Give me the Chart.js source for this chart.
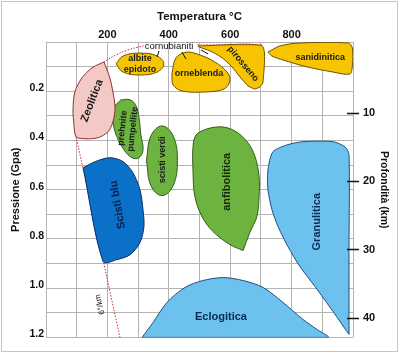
<!DOCTYPE html>
<html>
<head>
<meta charset="utf-8">
<script src="https://cdn.jsdelivr.net/npm/chart.js@4.4.1/dist/chart.umd.min.js"></script>
<style>
html, body { margin: 0; padding: 0; background: #fff; }
#wrap { width: 400px; height: 354px; }
</style>
</head>
<body>
<div id="wrap"><canvas id="facies" width="400" height="354"></canvas></div>
<script>
// assi
const tempTicks = [200, 400, 600, 800];
const pressTicks = [0.2, 0.4, 0.6, 0.8, 1.0, 1.2];
const depthTicks = [10, 20, 30, 40];

// contorni delle facies: [temperatura °C, pressione GPa]
const zeolitica = [[189,0.081],[150,0.105],[117,0.146],[94,0.203],[88,0.276],[91,0.336],[98,0.385],[127,0.393],[169,0.389],[202,0.365],[218,0.324],[225,0.268],[218,0.203],[208,0.146],[189,0.081]];
const albiteEpidoto = [[228,0.089],[251,0.057],[306,0.045],[362,0.057],[384,0.089],[362,0.122],[306,0.134],[251,0.122],[228,0.089]];
const orneblenda = [[410,0.130],[423,0.065],[459,0.041],[502,0.053],[550,0.081],[590,0.122],[599,0.158],[580,0.191],[518,0.203],[443,0.199],[414,0.174],[410,0.130]];
const pirosseno = [[495,0.016],[704,0.016],[707,0.162],[697,0.182],[681,0.191],[658,0.178],[632,0.142],[603,0.097],[570,0.061],[534,0.036],[498,0.020],[495,0.016]];
const sanidinitica = [[723,0.041],[762,0.016],[827,0.004],[984,0.004],[998,0.024],[998,0.097],[990,0.130],[935,0.122],[850,0.101],[772,0.073],[736,0.057],[723,0.041]];
const prehnitePumpellite = [[244,0.235],[274,0.235],[293,0.259],[303,0.308],[309,0.377],[316,0.438],[303,0.470],[280,0.470],[254,0.438],[231,0.385],[218,0.324],[221,0.268],[244,0.235]];
const scistiVerdi = [[327,0.482],[342,0.381],[378,0.341],[414,0.381],[428,0.482],[414,0.584],[378,0.624],[342,0.584],[327,0.482]];
const scistiBlu = [[121,0.511],[160,0.486],[208,0.470],[251,0.486],[283,0.531],[306,0.600],[316,0.681],[319,0.750],[306,0.815],[274,0.864],[231,0.884],[186,0.892],[121,0.511]];
const anfibolitica = [[642,0.847],[599,0.823],[544,0.770],[508,0.709],[485,0.628],[479,0.531],[480,0.410],[495,0.370],[557,0.345],[609,0.357],[655,0.405],[681,0.466],[694,0.547],[694,0.628],[687,0.709],[664,0.774],[642,0.847]];
const granulitica = [[987,1.188],[987,0.843],[987,0.458],[974,0.426],[935,0.405],[837,0.405],[785,0.418],[739,0.446],[723,0.519],[723,0.600],[736,0.681],[756,0.750],[788,0.831],[827,0.912],[876,0.993],[935,1.095],[987,1.188]];
const eclogitica = [[313,1.2],[349,1.139],[394,1.058],[453,0.997],[511,0.969],[577,0.957],[642,0.969],[707,0.997],[772,1.058],[837,1.127],[883,1.168],[919,1.2],[616,1.2],[313,1.2]];

// gradiente 6°/km e limite superiore
const geotermaAlta1 = [[704,0.012],[490,0.012]];
const geotermaAlta2 = [[318,0.016],[283,0.026],[248,0.041],[215,0.061],[189,0.081]];
const geotermaBassa = [[98,0.385],[241,1.2]];

// trattini dell'etichetta cornubianiti
const cornubianitiFrecce = [
  [[368,0.036],[362,0.061]],
  [[443,0.041],[456,0.069]],
  [[505,0.032],[528,0.049]]
];

const FONT = "'Liberation Sans', Arial, sans-serif";
const GRID = '#b4b4b4';

// colori
const giallo = ['#f6c400', '#6e5400'];
const rosa = ['#f3c9c6', '#8e2f2f'];
const verde = ['#6db33f', '#2f5e14'];
const blu = ['#0b70c8', '#0b2a66'];
const azzurro = ['#6dc1ee', '#1f4f7e'];

function toXY(pts) {
  return pts.map(p => ({ x: p[0], y: p[1] }));
}

function facies(label, pts, col, tension) {
  return {
    label: label,
    data: toXY(pts),
    backgroundColor: col[0],
    borderColor: col[1],
    borderWidth: 1,
    fill: 'shape',
    tension: tension,
    pointRadius: 0,
    order: 2
  };
}

function linea(label, pts, color, dash, order) {
  return {
    label: label,
    data: toXY(pts),
    borderColor: color,
    borderWidth: 1,
    borderDash: dash,
    fill: false,
    tension: 0.3,
    pointRadius: 0,
    order: order
  };
}

const datasets = [
  linea('geoterma', geotermaAlta1, '#d42a2a', [1.5, 1.5], 0),
  linea('geoterma', geotermaAlta2, '#d42a2a', [1.5, 1.5], 0),
  facies('Zeolitica', zeolitica, rosa, 0.3),
  facies('albite epidoto', albiteEpidoto, giallo, 0.4),
  facies('orneblenda', orneblenda, giallo, 0.35),
  facies('pirosseno', pirosseno, giallo, 0.2),
  facies('sanidinitica', sanidinitica, giallo, 0.3),
  facies('prehnite pumpellite', prehnitePumpellite, verde, 0.4),
  facies('scisti verdi', scistiVerdi, verde, 0.4),
  facies('Scisti blu', scistiBlu, blu, 0.3),
  facies('anfibolitica', anfibolitica, verde, 0.35),
  facies('Granulitica', granulitica, azzurro, 0.25),
  facies('Eclogitica', eclogitica, azzurro, 0.3),
  linea('geoterma', geotermaBassa, '#d42a2a', [1.5, 1.5], 5)
];
cornubianitiFrecce.forEach(f => datasets.push(linea('freccia', f, '#111', [], 0)));

// etichette delle facies (posizione in °C / GPa)
const etichette = [
  { text: ['Zeolitica'], t: 150, p: 0.239, rot: -69, size: 11, color: '#1a1a1a' },
  { text: ['albite', 'epidoto'], t: 306, p: 0.089, rot: 0, size: 9, color: '#1a1a1a' },
  { text: ['orneblenda'], t: 498, p: 0.130, rot: 0, size: 9, color: '#1a1a1a' },
  { text: ['pirosseno'], t: 642, p: 0.089, rot: 50, size: 9, color: '#1a1a1a' },
  { text: ['sanidinitica'], t: 893, p: 0.061, rot: 0, size: 9, color: '#1a1a1a' },
  { text: ['prehnite', 'pumpellite'], t: 266, p: 0.352, rot: -84, size: 9, color: '#1a1a1a' },
  { text: ['scisti verdi'], t: 378, p: 0.478, rot: -90, size: 9, color: '#1a1a1a' },
  { text: ['Scisti blu'], t: 234, p: 0.661, rot: -100, size: 11, color: '#0a1f4d' },
  { text: ['anfibolitica'], t: 590, p: 0.568, rot: -90, size: 11, color: '#14280a' },
  { text: ['Granulitica'], t: 883, p: 0.730, rot: -90, size: 11, color: '#0d2a55' },
  { text: ['Eclogitica'], t: 570, p: 1.115, rot: 0, size: 11, color: '#0d2a55' },
  { text: ['cornubianiti'], t: 401, p: 0.016, rot: 0, size: 9.5, color: '#111', weight: 'normal' },
  { text: ['6°/km'], t: 176, p: 1.066, rot: -103, size: 8, color: '#111', weight: 'normal' }
];

const etichettePlugin = {
  id: 'etichette',
  afterDatasetsDraw(chart) {
    const { ctx, scales: { x, y } } = chart;
    etichette.forEach(e => {
      ctx.save();
      ctx.translate(x.getPixelForValue(e.t), y.getPixelForValue(e.p));
      ctx.rotate(e.rot * Math.PI / 180);
      ctx.font = (e.weight || 'bold') + ' ' + e.size + 'px ' + FONT;
      ctx.fillStyle = e.color;
      ctx.textAlign = 'center';
      ctx.textBaseline = 'middle';
      const lh = e.size * 1.15;
      e.text.forEach((t, i) => ctx.fillText(t, 0, (i - (e.text.length - 1) / 2) * lh));
      ctx.restore();
    });
  },
  afterDraw(chart) {
    const { ctx, chartArea, scales: { y2 } } = chart;
    // trattini della scala profondità
    ctx.save();
    ctx.strokeStyle = '#111';
    ctx.lineWidth = 1.5;
    depthTicks.forEach(v => {
      const py = Math.round(y2.getPixelForValue(v)) + 0.5;
      ctx.beginPath();
      ctx.moveTo(chartArea.right - 6, py);
      ctx.lineTo(chartArea.right + 6, py);
      ctx.stroke();
    });
    // cornice
    ctx.strokeStyle = '#c4c4c4';
    ctx.lineWidth = 1;
    ctx.strokeRect(1.5, 1.5, 396, 350);
    ctx.restore();
  }
};

const ctx = document.getElementById('facies').getContext('2d');
new Chart(ctx, {
  type: 'line',
  data: { datasets: datasets },
  options: {
    responsive: false,
    animation: false,
    devicePixelRatio: 1,
    layout: { padding: { top: 0, left: 0, right: 0, bottom: 16 } },
    plugins: { legend: { display: false }, tooltip: { enabled: false } },
    scales: {
      x: {
        type: 'linear',
        position: 'top',
        min: 0,
        max: 1000,
        afterFit: s => { s.height = 42; },
        grid: { color: GRID, drawTicks: false },
        border: { color: GRID },
        ticks: {
          stepSize: 100,
          autoSkip: false,
          maxRotation: 0,
          padding: 0,
          color: '#111',
          font: { family: FONT, size: 11, weight: 'bold' },
          callback: v => tempTicks.includes(v) ? String(v) : ''
        },
        title: {
          display: true,
          text: 'Temperatura °C',
          color: '#111',
          padding: { top: 10, bottom: 0 },
          font: { family: FONT, size: 11.5, weight: 'bold' }
        }
      },
      y: {
        type: 'linear',
        position: 'left',
        reverse: true,
        min: 0,
        max: 1.2,
        afterFit: s => { s.width = 46; },
        grid: { color: GRID, drawTicks: false },
        border: { color: GRID },
        ticks: {
          stepSize: 0.1,
          autoSkip: false,
          padding: 2,
          labelOffset: -3,
          color: '#111',
          font: { family: FONT, size: 10.5, weight: 'bold' },
          callback: v => {
            const r = Math.round(v * 10) / 10;
            return pressTicks.includes(r) ? r.toFixed(1) : '';
          }
        },
        title: {
          display: true,
          text: 'Pressione (Gpa)',
          color: '#111',
          padding: { top: 9, bottom: 0 },
          font: { family: FONT, size: 11, weight: 'bold' }
        }
      },
      y2: {
        type: 'linear',
        position: 'right',
        reverse: true,
        min: -0.44,
        max: 42.9,
        afterFit: s => { s.width = 47; },
        afterBuildTicks: s => { s.ticks = depthTicks.map(v => ({ value: v })); },
        grid: { display: false, drawTicks: false, tickLength: 0 },
        border: { display: false },
        ticks: {
          padding: 10,
          color: '#111',
          font: { family: FONT, size: 11, weight: 'bold' }
        },
        title: {
          display: true,
          text: 'Profondità (km)',
          color: '#111',
          padding: { top: 10, bottom: 0 },
          font: { family: FONT, size: 10.5, weight: 'bold' }
        }
      }
    }
  },
  plugins: [etichettePlugin]
});
</script>
</body>
</html>
